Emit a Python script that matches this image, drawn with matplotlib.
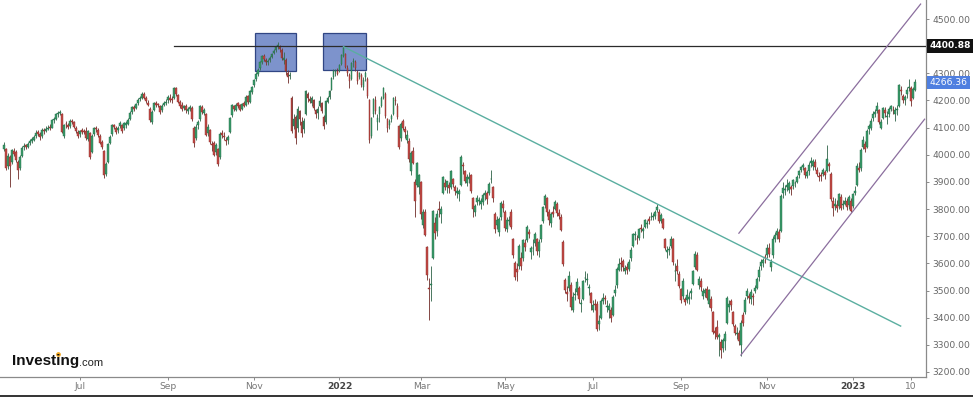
import numpy as np
import pandas as pd
import matplotlib
matplotlib.use("Agg")
import matplotlib.pyplot as plt
import matplotlib.transforms as mtransforms
from matplotlib.patches import Rectangle
from matplotlib.lines import Line2D

# ---------------- data ----------------
start_date = "2021-05-10"
holidays = ["2021-12-24", "2021-12-31", "2022-04-15", "2022-04-18", "2022-12-26"]

open_ = [
    4020, 4020, 3960, 3990, 3972, 4012, 4010, 3975, 3950, 3995, 4030, 4035, 4030, 4042, 4052, 4056,
    4070, 4082, 4075, 4068, 4092, 4088, 4096, 4102, 4100, 4128, 4132, 4150, 4155, 4150, 4070, 4115, 4110, 4106, 4125, 4120, 4100, 4085,
    4075, 4090, 4088, 4088, 4058, 4080, 4010, 4075, 4098, 4092, 4070, 4048, 4015, 3930, 3975, 4045, 4075, 4108, 4098, 4090, 4105, 4110,
    4098, 4110, 4115, 4132, 4158, 4175, 4172, 4190, 4205, 4210, 4225, 4208, 4192, 4170, 4120, 4165, 4192, 4185, 4180, 4165, 4185, 4190,
    4200, 4210, 4205, 4210, 4245, 4220, 4195, 4182, 4172, 4180, 4160, 4170, 4172, 4100, 4060, 4110, 4130, 4175, 4155, 4150, 4080, 4090,
    4040, 4045, 4010, 4020, 3990, 4080, 4070, 4055, 4055, 4085, 4145, 4180, 4165, 4190, 4185, 4170, 4190, 4185, 4215, 4195, 4230,
    4258, 4280, 4298, 4318, 4342, 4365, 4350, 4340, 4348, 4360, 4375, 4385, 4400, 4398, 4385, 4350, 4350, 4300, 4290, 4210, 4105, 4140,
    4100, 4160, 4120, 4095, 4150, 4225, 4205, 4190, 4200, 4165, 4155, 4180, 4190, 4140, 4120, 4195, 4212, 4240, 4285, 4305, 4310,
    4310, 4335, 4365, 4370, 4320, 4295, 4280, 4340, 4340, 4305, 4285, 4295, 4250, 4285, 4280, 4200, 4070, 4150, 4200, 4120, 4150,
    4180, 4210, 4225, 4130, 4110, 4130, 4150, 4200, 4180, 4105, 4060, 4125, 4095, 4055, 4050, 3940, 4015, 3900, 3890, 3880,
    3900, 3740, 3790, 3660, 3510, 3520, 3620, 3750, 3720, 3800, 3780, 3860, 3895, 3880, 3890, 3880, 3910, 3880, 3860, 3855, 3890, 3960, 3940,
    3895, 3910, 3925, 3840, 3790, 3825, 3830, 3820, 3825, 3850, 3860, 3860, 3910, 3880, 3780, 3740, 3715, 3770, 3820,
    3790, 3725, 3755, 3790, 3690, 3600, 3580, 3590, 3620, 3620, 3675, 3685, 3715, 3640, 3655, 3675, 3690, 3645, 3690, 3755, 3815, 3840,
    3790, 3750, 3790, 3800, 3820, 3785, 3770, 3680, 3540, 3495, 3510, 3520, 3430, 3485, 3495, 3510, 3450, 3470, 3545, 3540, 3510, 3490,
    3430, 3450, 3450, 3375, 3400, 3460, 3470, 3440, 3430, 3430, 3410, 3490, 3520, 3575, 3600, 3610, 3570, 3585, 3580, 3620, 3665,
    3705, 3690, 3695, 3730, 3720, 3735, 3745, 3765, 3770, 3770, 3775, 3795, 3790, 3755, 3765, 3690, 3640, 3650, 3665, 3690, 3570, 3590, 3560,
    3505, 3480, 3470, 3465, 3470, 3490, 3525, 3585, 3630, 3520, 3535, 3480, 3490, 3505, 3450, 3470, 3420, 3350, 3365, 3330, 3310, 3290,
    3315, 3380, 3440, 3460, 3420, 3370, 3340, 3345, 3300, 3410, 3420, 3480, 3480, 3470, 3480, 3500, 3510, 3550, 3590, 3600, 3625,
    3630, 3655, 3585, 3630, 3690, 3705, 3715, 3720, 3860, 3870, 3880, 3870, 3880, 3885, 3895, 3900, 3925, 3945, 3955, 3950, 3920, 3940,
    3970, 3960, 3975, 3945, 3920, 3925, 3930, 3935, 3940, 3965, 3930, 3830, 3810, 3815, 3810, 3845, 3815, 3820, 3830, 3815, 3830,
    3810, 3860, 3890, 3950, 3950, 4030, 4040, 4030, 4095, 4100, 4135, 4150, 4160, 4165, 4100, 4135, 4165, 4140, 4150, 4170, 4165, 4150,
    4165, 4180, 4240, 4215, 4200, 4225, 4245, 4245, 4210, 4240,
]
high = [
    4048, 4025, 4005, 3998, 4022, 4025, 4018, 3982, 3998, 4032, 4042, 4040, 4048, 4058, 4066, 4072,
    4090, 4090, 4082, 4098, 4100, 4105, 4110, 4112, 4132, 4138, 4155, 4162, 4165, 4155, 4115, 4125, 4118, 4130, 4132, 4125, 4105, 4090,
    4092, 4098, 4095, 4102, 4092, 4085, 4075, 4102, 4105, 4098, 4075, 4055, 4018, 3975, 4045, 4072, 4112, 4115, 4105, 4105, 4125, 4115,
    4122, 4125, 4135, 4160, 4180, 4182, 4192, 4208, 4215, 4232, 4230, 4215, 4200, 4175, 4165, 4195, 4198, 4192, 4185, 4188, 4198, 4205,
    4220, 4222, 4215, 4250, 4248, 4225, 4200, 4195, 4185, 4188, 4175, 4182, 4178, 4105, 4112, 4128, 4185, 4182, 4172, 4155, 4115, 4095,
    4052, 4050, 4042, 4025, 4082, 4090, 4082, 4065, 4072, 4138, 4188, 4182, 4190, 4195, 4188, 4192, 4198, 4220, 4220, 4238, 4255,
    4280, 4305, 4320, 4345, 4368, 4370, 4358, 4352, 4362, 4375, 4390, 4402, 4415, 4405, 4392, 4380, 4358, 4312, 4305, 4215, 4150, 4145,
    4180, 4165, 4140, 4135, 4240, 4230, 4215, 4215, 4205, 4170, 4178, 4215, 4195, 4145, 4202, 4215, 4238, 4285, 4315, 4315, 4318,
    4335, 4372, 4400, 4375, 4330, 4300, 4342, 4355, 4350, 4312, 4305, 4300, 4285, 4310, 4285, 4205, 4140, 4210, 4215, 4150, 4180,
    4215, 4250, 4230, 4135, 4130, 4150, 4212, 4215, 4190, 4110, 4120, 4130, 4105, 4090, 4060, 4015, 4030, 3910, 3975, 3930,
    3905, 3800, 3800, 3665, 3545, 3590, 3795, 3770, 3795, 3830, 3810, 3920, 3910, 3905, 3900, 3945, 3915, 3890, 3880, 3875, 4000, 3975, 3945,
    3930, 3935, 3930, 3845, 3820, 3850, 3845, 3840, 3860, 3870, 3865, 3900, 3945, 3885, 3790, 3775, 3770, 3830, 3835,
    3795, 3770, 3775, 3800, 3695, 3610, 3600, 3670, 3640, 3690, 3690, 3740, 3725, 3665, 3690, 3715, 3695, 3690, 3745, 3810, 3855, 3845,
    3800, 3790, 3810, 3835, 3825, 3800, 3780, 3685, 3545, 3515, 3570, 3530, 3495, 3510, 3545, 3515, 3470, 3540, 3570, 3565, 3525, 3495,
    3465, 3470, 3460, 3410, 3470, 3490, 3485, 3465, 3455, 3440, 3485, 3520, 3585, 3620, 3625, 3615, 3595, 3600, 3615, 3660, 3712,
    3720, 3705, 3730, 3745, 3735, 3762, 3758, 3775, 3790, 3785, 3795, 3820, 3800, 3785, 3768, 3695, 3665, 3665, 3700, 3695, 3600, 3615, 3570,
    3510, 3545, 3475, 3505, 3495, 3510, 3575, 3645, 3640, 3555, 3545, 3510, 3510, 3515, 3505, 3478, 3425, 3365, 3390, 3345, 3320, 3325,
    3350, 3480, 3465, 3470, 3425, 3375, 3365, 3355, 3390, 3420, 3475, 3510, 3490, 3505, 3490, 3520, 3550, 3590, 3615, 3620, 3635,
    3670, 3675, 3615, 3700, 3715, 3730, 3725, 3855, 3900, 3890, 3910, 3905, 3890, 3910, 3905, 3925, 3945, 3960, 3968, 3955, 3945, 3975,
    3990, 3985, 3985, 3955, 3935, 3935, 3950, 3945, 4035, 3975, 3935, 3845, 3840, 3835, 3860, 3855, 3835, 3845, 3840, 3850, 3840,
    3860, 3885, 3970, 3975, 4025, 4070, 4050, 4095, 4115, 4135, 4160, 4170, 4195, 4170, 4130, 4175, 4175, 4160, 4175, 4185, 4180, 4175,
    4185, 4262, 4255, 4225, 4220, 4250, 4280, 4255, 4248, 4280,
]
low = [
    4012, 3945, 3948, 3880, 3965, 3995, 3975, 3912, 3942, 3990, 4018, 4020, 4025, 4035, 4045, 4050,
    4062, 4068, 4055, 4062, 4078, 4083, 4090, 4090, 4098, 4118, 4128, 4140, 4145, 4080, 4062, 4100, 4095, 4100, 4115, 4100, 4080, 4062,
    4065, 4075, 4078, 4055, 4050, 3985, 4005, 4068, 4085, 4065, 4038, 4020, 3915, 3920, 3970, 4040, 4070, 4095, 4075, 4080, 4098, 4080,
    4092, 4100, 4108, 4128, 4150, 4162, 4168, 4185, 4198, 4205, 4205, 4190, 4178, 4120, 4112, 4160, 4175, 4175, 4150, 4158, 4178, 4182,
    4192, 4195, 4190, 4205, 4218, 4190, 4172, 4160, 4165, 4155, 4150, 4160, 4125, 4030, 4055, 4095, 4125, 4150, 4145, 4068, 4070, 4040,
    4015, 3995, 4000, 3960, 3985, 4060, 4055, 4035, 4040, 4080, 4140, 4160, 4160, 4172, 4160, 4165, 4175, 4180, 4188, 4190, 4225,
    4250, 4272, 4290, 4312, 4335, 4345, 4330, 4332, 4340, 4355, 4370, 4380, 4390, 4380, 4350, 4335, 4295, 4265, 4278, 4080, 4095, 4040,
    4085, 4110, 4065, 4080, 4145, 4195, 4190, 4180, 4165, 4135, 4130, 4175, 4155, 4095, 4115, 4190, 4205, 4238, 4280, 4290, 4292,
    4305, 4330, 4360, 4318, 4290, 4245, 4275, 4325, 4310, 4262, 4280, 4250, 4240, 4270, 4210, 4045, 4060, 4140, 4150, 4090, 4120,
    4175, 4205, 4135, 4085, 4095, 4120, 4145, 4185, 4130, 4020, 4050, 4090, 4060, 4045, 3975, 3925, 3965, 3770, 3880, 3855,
    3765, 3730, 3700, 3540, 3390, 3460, 3615, 3690, 3700, 3770, 3750, 3855, 3870, 3860, 3860, 3875, 3880, 3850, 3840, 3830, 3885, 3930, 3895,
    3885, 3895, 3860, 3770, 3775, 3815, 3815, 3800, 3815, 3835, 3820, 3850, 3895, 3825, 3710, 3725, 3700, 3760, 3790,
    3720, 3715, 3740, 3725, 3620, 3540, 3535, 3580, 3575, 3610, 3645, 3680, 3695, 3615, 3630, 3665, 3630, 3625, 3680, 3750, 3805, 3775,
    3740, 3735, 3770, 3795, 3775, 3765, 3720, 3590, 3490, 3460, 3500, 3430, 3420, 3465, 3485, 3455, 3420, 3465, 3530, 3520, 3485, 3430,
    3420, 3430, 3350, 3355, 3395, 3450, 3450, 3420, 3400, 3385, 3405, 3480, 3510, 3570, 3570, 3570, 3560, 3560, 3570, 3610, 3660,
    3685, 3670, 3685, 3715, 3695, 3730, 3730, 3745, 3760, 3760, 3765, 3790, 3750, 3750, 3725, 3650, 3620, 3630, 3655, 3595, 3535, 3560, 3510,
    3455, 3470, 3445, 3455, 3450, 3470, 3520, 3580, 3570, 3505, 3500, 3470, 3475, 3465, 3440, 3425, 3340, 3320, 3320, 3260, 3250, 3275,
    3280, 3375, 3420, 3430, 3370, 3335, 3320, 3300, 3260, 3370, 3415, 3470, 3455, 3450, 3445, 3490, 3505, 3535, 3575, 3585, 3600,
    3620, 3625, 3570, 3620, 3680, 3690, 3680, 3715, 3840, 3850, 3865, 3860, 3850, 3875, 3880, 3895, 3915, 3935, 3945, 3915, 3915, 3925,
    3955, 3945, 3945, 3920, 3905, 3905, 3920, 3910, 3935, 3940, 3830, 3775, 3795, 3790, 3800, 3795, 3800, 3815, 3795, 3800, 3790,
    3805, 3850, 3885, 3935, 3940, 4020, 4010, 4025, 4075, 4090, 4125, 4140, 4155, 4115, 4095, 4130, 4140, 4115, 4140, 4160, 4150, 4125,
    4145, 4175, 4220, 4190, 4185, 4210, 4235, 4180, 4205, 4235,
]
close = [
    4035, 3952, 3996, 3960, 4017, 4003, 3980, 3945, 3991, 4026, 4030, 4028, 4040, 4050, 4058, 4065,
    4079, 4077, 4065, 4092, 4086, 4096, 4100, 4098, 4127, 4130, 4149, 4153, 4158, 4085, 4111, 4112, 4104, 4124, 4121, 4104, 4087, 4070,
    4087, 4084, 4085, 4060, 4087, 3993, 4070, 4097, 4094, 4072, 4045, 4029, 3924, 3966, 4040, 4067, 4109, 4102, 4082, 4100, 4118, 4089,
    4116, 4117, 4128, 4153, 4175, 4170, 4187, 4202, 4208, 4225, 4210, 4197, 4183, 4128, 4158, 4190, 4184, 4183, 4159, 4181, 4189, 4196,
    4212, 4203, 4201, 4245, 4225, 4196, 4180, 4170, 4178, 4165, 4168, 4176, 4130, 4043, 4104, 4119, 4181, 4157, 4163, 4074, 4103, 4048,
    4036, 4000, 4035, 3967, 4078, 4072, 4064, 4052, 4066, 4134, 4183, 4170, 4185, 4181, 4166, 4188, 4180, 4214, 4193, 4233, 4250,
    4274, 4299, 4314, 4340, 4363, 4353, 4343, 4345, 4357, 4370, 4382, 4398, 4401, 4389, 4356, 4358, 4307, 4285, 4293, 4089, 4130, 4063,
    4170, 4130, 4080, 4124, 4233, 4208, 4199, 4208, 4173, 4149, 4170, 4199, 4161, 4105, 4198, 4208, 4234, 4281, 4310, 4307, 4298,
    4331, 4367, 4392, 4325, 4300, 4271, 4338, 4344, 4318, 4272, 4301, 4258, 4276, 4300, 4216, 4054, 4134, 4205, 4160, 4136, 4175,
    4209, 4245, 4141, 4099, 4124, 4144, 4208, 4199, 4140, 4029, 4115, 4100, 4083, 4074, 3985, 4006, 3970, 3830, 3971, 3924,
    3783, 3789, 3705, 3556, 3505, 3520, 3791, 3712, 3780, 3797, 3800, 3917, 3883, 3903, 3876, 3940, 3894, 3867, 3867, 3868, 3990, 3959, 3903,
    3918, 3917, 3866, 3800, 3812, 3842, 3832, 3831, 3851, 3859, 3836, 3893, 3910, 3840, 3726, 3760, 3763, 3823, 3803,
    3732, 3761, 3759, 3735, 3629, 3551, 3569, 3664, 3591, 3685, 3662, 3734, 3708, 3657, 3658, 3707, 3646, 3678, 3740, 3806, 3847, 3789,
    3758, 3783, 3783, 3826, 3787, 3774, 3723, 3599, 3501, 3488, 3554, 3438, 3477, 3487, 3532, 3467, 3451, 3534, 3546, 3544, 3514, 3454,
    3448, 3448, 3360, 3386, 3462, 3474, 3469, 3442, 3443, 3397, 3477, 3503, 3580, 3599, 3598, 3588, 3584, 3574, 3605, 3651, 3708,
    3706, 3688, 3726, 3728, 3725, 3758, 3749, 3757, 3772, 3776, 3789, 3809, 3757, 3777, 3730, 3658, 3649, 3654, 3688, 3604, 3570, 3571, 3517,
    3464, 3535, 3459, 3483, 3476, 3498, 3570, 3634, 3576, 3543, 3514, 3500, 3501, 3472, 3501, 3434, 3348, 3342, 3328, 3335, 3280, 3318,
    3341, 3473, 3450, 3446, 3375, 3345, 3342, 3315, 3381, 3381, 3466, 3497, 3474, 3494, 3476, 3508, 3544, 3574, 3604, 3613, 3618,
    3657, 3634, 3604, 3688, 3703, 3719, 3688, 3849, 3878, 3872, 3890, 3895, 3875, 3906, 3897, 3918, 3940, 3956, 3962, 3925, 3937, 3964,
    3977, 3977, 3956, 3930, 3918, 3921, 3942, 3925, 3986, 3957, 3838, 3804, 3820, 3804, 3855, 3803, 3817, 3829, 3806, 3843, 3794,
    3856, 3868, 3960, 3944, 4018, 4055, 4023, 4088, 4106, 4126, 4151, 4158, 4180, 4119, 4120, 4171, 4152, 4144, 4168, 4178, 4163, 4163,
    4170, 4257, 4233, 4202, 4212, 4237, 4250, 4199, 4242, 4266.36,
]

tick_dates = ["2021-07-01", "2021-09-01", "2021-11-01", "2022-01-03", "2022-03-01", "2022-05-02",
              "2022-07-01", "2022-09-01", "2022-11-01", "2023-01-02", "2023-02-10"]
tick_labels = ["Jul", "Sep", "Nov", "2022", "Mar", "May", "Jul", "Sep", "Nov", "2023", "10"]
y_ticks = [3200, 3300, 3400, 3500, 3600, 3700, 3800, 3900, 4000, 4100, 4200, 4300, 4500]

resistance_level = 4400.88
resistance_from = "2021-09-06"
box_zones = [("2021-11-02", "2021-11-30", 4308, 4447),
             ("2021-12-20", "2022-01-20", 4312, 4447)]
trend_line = [("2022-01-05", 4398), ("2023-02-03", 3369)]
channel_upper = [("2022-10-12", 3711), ("2023-02-17", 4555)]
channel_lower = [("2022-10-13", 3262), ("2023-02-21", 4131)]

# ---------------- drawing ----------------
n = min(len(open_), len(high), len(low), len(close))
o = np.array(open_[:n], float)
h = np.array(high[:n], float)
l = np.array(low[:n], float)
c = np.array(close[:n], float)

cal = pd.bdate_range(start=start_date, periods=n + 20, freq="C", holidays=holidays)


def pos(d):
    return float(cal.searchsorted(pd.Timestamp(d)))


x = np.arange(n)

W, H = 973, 399
fig = plt.figure(figsize=(W / 100, H / 100), dpi=100)
fig.patch.set_facecolor("white")
ax_bottom_px = 376.7
ax_right_px = 926
ax = fig.add_axes([0, 1 - ax_bottom_px / H, ax_right_px / W, ax_bottom_px / H])
ax.set_facecolor("white")

up = c >= o
up_col, dn_col = "#3a9a6a", "#c24a46"
up_edge, dn_edge = "#1f6a45", "#8a2c29"
body_col = np.where(up, up_col, dn_col)
edge_col = np.where(up, up_edge, dn_edge)
wick_col = np.where(up, "#3d6e55", "#7a3a37")

wick_lo = np.minimum(l, np.minimum(o, c))
wick_hi = np.maximum(h, np.maximum(o, c))
ax.vlines(x, wick_lo, wick_hi, colors=wick_col, linewidth=0.65, zorder=3)
body_bot = np.minimum(o, c)
body_h = np.maximum(np.abs(c - o), 2.5)
ax.bar(x, body_h, bottom=body_bot, width=0.9, color=body_col, edgecolor=edge_col,
       linewidth=0.3, zorder=4)

# zones
for d0, d1, p0, p1 in box_zones:
    x0, x1 = pos(d0) - 0.3, pos(d1) + 0.3
    ax.add_patch(Rectangle((x0, p0), x1 - x0, p1 - p0, facecolor="#6f87c7",
                           edgecolor="#22387a", linewidth=0.9, alpha=0.9, zorder=2))

# resistance line
ax.plot([pos(resistance_from), n + 40], [resistance_level, resistance_level],
        color="#2b2b2b", linewidth=0.9, zorder=5)

# trend line
ax.plot([pos(trend_line[0][0]), pos(trend_line[1][0])], [trend_line[0][1], trend_line[1][1]],
        color="#5aaea0", linewidth=1.0, zorder=5)

# channel
for ch in (channel_upper, channel_lower):
    ax.plot([pos(ch[0][0]), pos(ch[1][0])], [ch[0][1], ch[1][1]],
            color="#8b6e9e", linewidth=0.9, zorder=5)

# axes limits (pixel calibrated)
ax.set_xlim(-2.0, 461.7)
ax.set_ylim(3182.5, 4570.0)

for s in ("top", "left"):
    ax.spines[s].set_visible(False)
for s in ("right", "bottom"):
    ax.spines[s].set_color("#8a8a8a")
    ax.spines[s].set_linewidth(0.9)

ax.yaxis.tick_right()
ax.set_yticks(y_ticks)
ax.set_yticklabels([f"{v:.2f}" for v in y_ticks])
ax.tick_params(axis="y", direction="out", length=2.5, width=0.7, color="#8a8a8a",
               labelsize=6.6, labelcolor="#666666", pad=2)

ax.set_xticks([pos(d) for d in tick_dates])
ax.set_xticklabels(tick_labels)
ax.tick_params(axis="x", direction="out", length=2, width=0.7, color="#8a8a8a",
               labelsize=6.6, labelcolor="#777777", pad=2)
for lab in ax.get_xticklabels():
    if lab.get_text().isdigit() and len(lab.get_text()) == 4:
        lab.set_color("#444444")
        lab.set_fontweight("bold")

# price labels
trans = mtransforms.blended_transform_factory(ax.transAxes, ax.transData)
ax.text(1.004, resistance_level, f"{resistance_level:.2f}", transform=trans, ha="left",
        va="center", fontsize=6.6, fontweight="bold", color="white", zorder=10,
        bbox=dict(boxstyle="square,pad=0.25", facecolor="#111111", edgecolor="none"),
        clip_on=False)
ax.text(1.004, c[-1], f"{c[-1]:.2f}", transform=trans, ha="left", va="center",
        fontsize=6.6, color="white", zorder=10,
        bbox=dict(boxstyle="square,pad=0.25", facecolor="#4f7fe0", edgecolor="none"),
        clip_on=False)

# logo
fig.text(12 / W, 1 - 365.5 / H, "Investing", fontsize=11, fontweight="bold",
         family="Liberation Sans", color="#111111", va="baseline", ha="left")
fig.text(78.5 / W, 1 - 365.5 / H, ".com", fontsize=8, family="Liberation Sans",
         color="#222222", va="baseline", ha="left")
fig.add_artist(Line2D([57.8 / W], [1 - 354.3 / H], marker="o", markersize=2.4,
                      color="#f4a820", linestyle="none"))

# bottom frame line
fig.add_artist(Line2D([0, 1], [1 - 395.5 / H, 1 - 395.5 / H], color="#333333", linewidth=1.4))

fig.savefig("out.png", dpi=100, facecolor="white")
